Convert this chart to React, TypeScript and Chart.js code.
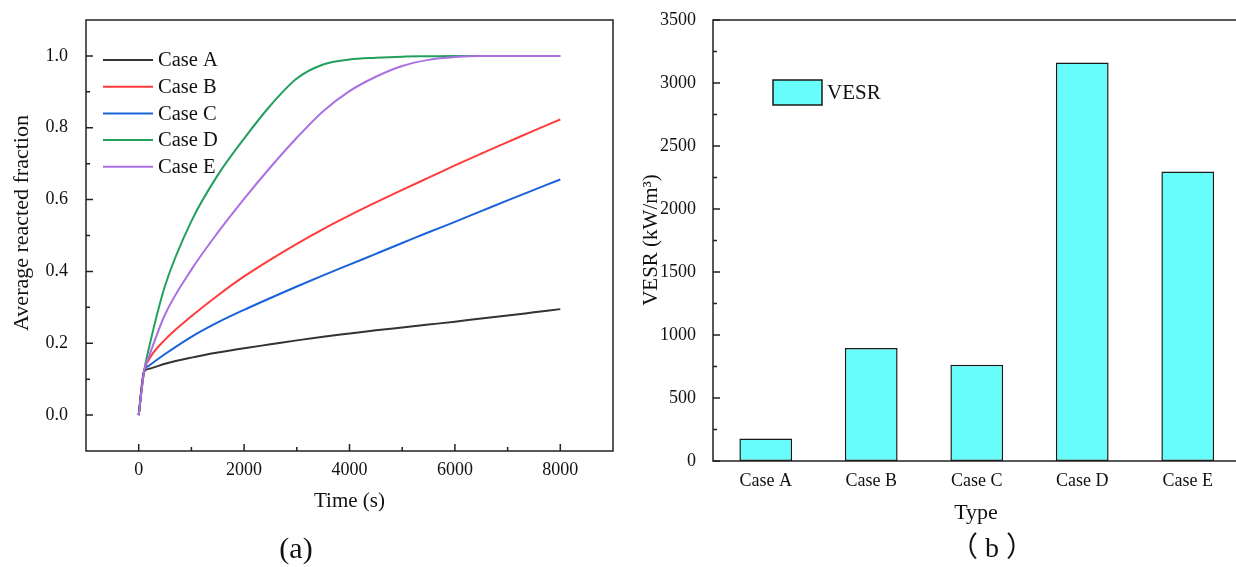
import React, { useEffect, useRef } from "react";
import { Chart, registerables } from "chart.js";

Chart.register(...registerables);

const SERIF = '"Liberation Serif", "Times New Roman", Times, serif';
const CJK_SERIF = '"Liberation Serif", "Noto Sans CJK SC", serif';
const TEXT = "#111111";
const AXIS = "#222222";

// ---- Panel (a): average reacted fraction over time ----
const timeSeconds = [0, 100, 200, 500, 1000, 1500, 2000, 2500, 3000, 3500, 4000, 4500, 5000, 5500, 6000, 6500, 7000, 7500, 8000];
const caseA = [0, 0.12, 0.129, 0.143, 0.16, 0.174, 0.186, 0.197, 0.208, 0.218, 0.227, 0.236, 0.244, 0.252, 0.26, 0.269, 0.277, 0.286, 0.295];
const caseB = [0, 0.12, 0.156, 0.21, 0.275, 0.333, 0.386, 0.433, 0.477, 0.518, 0.556, 0.592, 0.627, 0.661, 0.695, 0.728, 0.76, 0.792, 0.823];
const caseC = [0, 0.12, 0.138, 0.17, 0.218, 0.258, 0.293, 0.326, 0.358, 0.389, 0.419, 0.449, 0.479, 0.509, 0.538, 0.568, 0.598, 0.627, 0.656];
const caseD = [0, 0.12, 0.19, 0.36, 0.54, 0.668, 0.77, 0.862, 0.937, 0.976, 0.99, 0.995, 0.998, 0.999, 1.0, 1.0, 1.0, 1.0, 1.0];
const caseE = [0, 0.12, 0.165, 0.28, 0.405, 0.508, 0.602, 0.69, 0.772, 0.846, 0.902, 0.942, 0.972, 0.989, 0.997, 1.0, 1.0, 1.0, 1.0];

const seriesNames = ["Case A", "Case B", "Case C", "Case D", "Case E"];
const seriesValues = [caseA, caseB, caseC, caseD, caseE];
const seriesColors = ["#333333", "#ff3b3b", "#1a62db", "#22a05e", "#a970e3"];

const timeTicks = [0, 2000, 4000, 6000, 8000];
const timeMinorTicks = [1000, 3000, 5000, 7000];
const fractionTicks = [0, 0.2, 0.4, 0.6, 0.8, 1.0];
const fractionMinorTicks = [0.1, 0.3, 0.5, 0.7, 0.9];

// ---- Panel (b): VESR per case ----
const caseLabels = ["Case A", "Case B", "Case C", "Case D", "Case E"];
const vesrValues = [178, 897, 763, 3162, 2297];
const vesrTicks = [0, 500, 1000, 1500, 2000, 2500, 3000, 3500];
const vesrMinorTicks = [250, 750, 1250, 1750, 2250, 2750, 3250];

type TickSet = { xMajor: number[]; xMinor: number[]; yMajor: number[]; yMinor: number[] };

function drawFrameAndTicks(chart: any, t: TickSet) {
  const { ctx, chartArea: a, scales } = chart;
  const xs = scales.x;
  const ys = scales.y;
  const majorLen = 7;
  const minorLen = 4;
  ctx.save();
  ctx.strokeStyle = AXIS;
  ctx.lineWidth = 1.5;
  ctx.beginPath();
  t.xMajor.forEach((v) => {
    const px = xs.getPixelForValue(v);
    ctx.moveTo(px, a.bottom);
    ctx.lineTo(px, a.bottom - majorLen);
  });
  t.xMinor.forEach((v) => {
    const px = xs.getPixelForValue(v);
    ctx.moveTo(px, a.bottom);
    ctx.lineTo(px, a.bottom - minorLen);
  });
  t.yMajor.forEach((v) => {
    const py = ys.getPixelForValue(v);
    ctx.moveTo(a.left, py);
    ctx.lineTo(a.left + majorLen, py);
  });
  t.yMinor.forEach((v) => {
    const py = ys.getPixelForValue(v);
    ctx.moveTo(a.left, py);
    ctx.lineTo(a.left + minorLen, py);
  });
  ctx.stroke();
  ctx.strokeRect(a.left, a.top, a.right - a.left, a.bottom - a.top);
  ctx.restore();
}

function drawText(
  ctx: CanvasRenderingContext2D,
  text: string,
  x: number,
  y: number,
  font: string,
  rotate = 0,
  align: CanvasTextAlign = "center",
  baseline: CanvasTextBaseline = "middle",
  spacing = 0
) {
  ctx.save();
  ctx.translate(x, y);
  if (rotate) ctx.rotate(rotate);
  ctx.font = font;
  ctx.fillStyle = TEXT;
  ctx.textAlign = align;
  ctx.textBaseline = baseline;
  if (spacing) (ctx as any).letterSpacing = `${spacing}px`;
  ctx.fillText(text, 0, 0);
  ctx.restore();
}

const lineDecor = {
  id: "lineDecor",
  afterDraw(chart: any) {
    const ctx = chart.ctx as CanvasRenderingContext2D;
    drawFrameAndTicks(chart, {
      xMajor: timeTicks,
      xMinor: timeMinorTicks,
      yMajor: fractionTicks,
      yMinor: fractionMinorTicks,
    });
    // legend in the upper-left of the plot
    chart.data.datasets.forEach((ds: any, i: number) => {
      const y = 60 + i * 26.7;
      ctx.save();
      ctx.strokeStyle = ds.borderColor;
      ctx.lineWidth = 2;
      ctx.beginPath();
      ctx.moveTo(103, y);
      ctx.lineTo(153, y);
      ctx.stroke();
      ctx.restore();
      drawText(ctx, ds.label, 158, y + 1, `20.5px ${SERIF}`, 0, "left");
    });
    drawText(ctx, "Average reacted fraction", 22, 223, `22px ${SERIF}`, -Math.PI / 2);
    drawText(ctx, "Time (s)", 349.5, 501, `21px ${SERIF}`);
    drawText(ctx, "(a)", 296, 550, `30px ${SERIF}`);
  },
};

const barDecor = {
  id: "barDecor",
  afterDraw(chart: any) {
    const ctx = chart.ctx as CanvasRenderingContext2D;
    drawFrameAndTicks(chart, { xMajor: [], xMinor: [], yMajor: vesrTicks, yMinor: vesrMinorTicks });
    const ds = chart.data.datasets[0];
    ctx.save();
    ctx.fillStyle = ds.backgroundColor;
    ctx.strokeStyle = ds.borderColor;
    ctx.lineWidth = 1.5;
    ctx.fillRect(153, 80, 49, 25);
    ctx.strokeRect(153, 80, 49, 25);
    ctx.restore();
    drawText(ctx, ds.label, 207, 93.5, `21px ${SERIF}`, 0, "left");
    drawText(ctx, "VESR (kW/m³)", 31, 240, `21px ${SERIF}`, -Math.PI / 2);
    drawText(ctx, "Type", 356, 513, `22px ${SERIF}`);
    drawText(ctx, "（b）", 375.5, 550, `28px ${CJK_SERIF}`, 0, "center", "middle", 7);
  },
};

function LinePanel() {
  const ref = useRef<HTMLCanvasElement>(null);
  useEffect(() => {
    const chart = new Chart(ref.current!, {
      type: "line",
      data: {
        datasets: seriesNames.map((name, i) => ({
          label: name,
          data: timeSeconds.map((t, k) => ({ x: t, y: seriesValues[i][k] })),
          borderColor: seriesColors[i],
          backgroundColor: seriesColors[i],
          borderWidth: 2,
          pointRadius: 0,
          fill: false,
          cubicInterpolationMode: "monotone",
          order: i === 4 ? -1 : 0,
        })),
      },
      options: {
        responsive: false,
        animation: false,
        layout: { padding: { left: 0, top: 20, right: 7, bottom: 0 } },
        plugins: { legend: { display: false }, tooltip: { enabled: false } },
        scales: {
          x: {
            type: "linear",
            min: -1000,
            max: 9000,
            grid: { display: false },
            border: { display: false },
            ticks: {
              font: { family: SERIF, size: 18 },
              color: TEXT,
              padding: 0,
              maxRotation: 0,
              autoSkip: false,
              callback: (v: any) => String(v),
            },
            afterBuildTicks: (s: any) => {
              s.ticks = timeTicks.map((v) => ({ value: v }));
            },
            afterFit: (s: any) => {
              s.height = 116;
              s.paddingLeft = 0;
              s.paddingRight = 0;
            },
          },
          y: {
            type: "linear",
            min: -0.1,
            max: 1.1,
            grid: { display: false },
            border: { display: false },
            ticks: {
              font: { family: SERIF, size: 18 },
              color: TEXT,
              padding: 10,
              autoSkip: false,
              callback: (v: any) => Number(v).toFixed(1),
            },
            afterBuildTicks: (s: any) => {
              s.ticks = fractionTicks.map((v) => ({ value: v }));
            },
            afterFit: (s: any) => {
              s.width = 86;
              s.paddingTop = 0;
              s.paddingBottom = 0;
            },
          },
        },
      },
      plugins: [lineDecor],
    } as any);
    return () => chart.destroy();
  }, []);
  return <canvas ref={ref} width={620} height={567} style={{ position: "absolute", left: 0, top: 0 }} />;
}

function BarPanel() {
  const ref = useRef<HTMLCanvasElement>(null);
  useEffect(() => {
    const chart = new Chart(ref.current!, {
      type: "bar",
      data: {
        labels: caseLabels,
        datasets: [
          {
            label: "VESR",
            data: vesrValues,
            backgroundColor: "#66fdfb",
            borderColor: "#1a1a1a",
            borderWidth: 1.5,
            borderSkipped: false,
            barPercentage: 0.5,
            categoryPercentage: 1.0,
          },
        ],
      },
      options: {
        responsive: false,
        animation: false,
        layout: { padding: { left: 0, top: 20, right: 9.5, bottom: 0 } },
        plugins: { legend: { display: false }, tooltip: { enabled: false } },
        scales: {
          x: {
            type: "category",
            grid: { display: false },
            border: { display: false },
            ticks: { font: { family: SERIF, size: 18 }, color: TEXT, padding: 1, maxRotation: 0, autoSkip: false },
            afterFit: (s: any) => {
              s.height = 106;
              s.paddingLeft = 0;
              s.paddingRight = 0;
            },
          },
          y: {
            type: "linear",
            min: 0,
            max: 3500,
            grid: { display: false },
            border: { display: false },
            ticks: {
              font: { family: SERIF, size: 18 },
              color: TEXT,
              padding: 9,
              autoSkip: false,
              callback: (v: any) => String(v),
            },
            afterBuildTicks: (s: any) => {
              s.ticks = vesrTicks.map((v) => ({ value: v }));
            },
            afterFit: (s: any) => {
              s.width = 93;
              s.paddingTop = 0;
              s.paddingBottom = 0;
            },
          },
        },
      },
      plugins: [barDecor],
    } as any);
    return () => chart.destroy();
  }, []);
  return <canvas ref={ref} width={630} height={567} style={{ position: "absolute", left: 620, top: 0 }} />;
}

export default function App() {
  return (
    <div
      style={{
        position: "absolute",
        left: 0,
        top: 0,
        width: 1236,
        height: 567,
        overflow: "hidden",
        background: "#ffffff",
      }}
    >
      <LinePanel />
      <BarPanel />
    </div>
  );
}
